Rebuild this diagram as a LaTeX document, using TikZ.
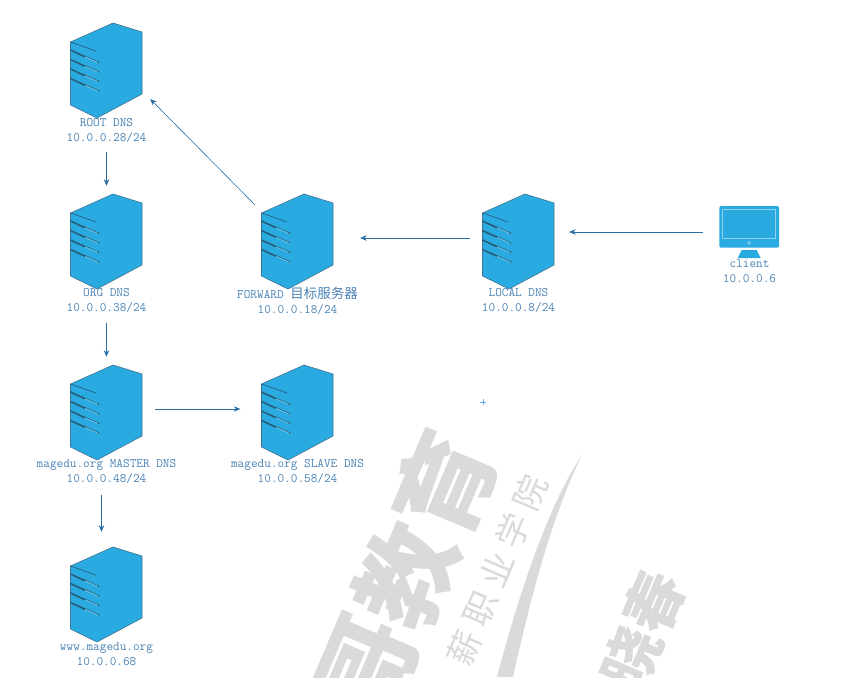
\documentclass[tikz,border=0pt]{standalone}
\usepackage{fontspec}
\newfontfamily\cjk{Noto Sans CJK SC}
\newfontfamily\cjkwide[LetterSpace=24]{Noto Sans CJK SC}
\usetikzlibrary{arrows.meta}
\definecolor{srvblue}{HTML}{29ABE2}
\definecolor{srvedge}{HTML}{3F7391}
\definecolor{slatdark}{HTML}{27566E}
\definecolor{slatpale}{HTML}{8FD0EE}
\definecolor{slatmid}{HTML}{62BCE4}
\definecolor{lblblue}{HTML}{4A82B3}
\definecolor{linkblue}{HTML}{2B6EA3}
\definecolor{wmgray}{HTML}{DADADA}
\definecolor{plusblue}{HTML}{6AA5E8}
\tikzset{
  x=1pt,y=-1pt,
  srvbox/.style={inner sep=0pt,minimum width=73pt,minimum height=95pt},
  lbl/.style={inner sep=0pt,align=center,text=lblblue,font=\fontsize{12.9}{15}\selectfont\ttfamily},
  link/.style={draw=linkblue,line width=0.6pt,-{Stealth[length=6.5pt,width=5.5pt]}},
  wm/.style={inner sep=0pt,text=wmgray,rotate=67},
  pics/server/.style={code={
    \fill[srvblue] (-36,-28.5) -- (6.5,-47.5) -- (35.5,-38.5) -- (35.5,23.5) -- (-9.5,47.5) -- (-36,34.5) -- cycle;
    \draw[srvedge,line width=0.6pt,line join=round] (-36,-28.5) -- (6.5,-47.5) -- (35.5,-38.5) -- (35.5,23.5) -- (-9.5,47.5) -- (-36,34.5) -- cycle;
    \draw[slatdark,line width=0.6pt] (-36,-28.5) -- (-10.5,-19.5);
    \foreach \k in {0,9.5,19,28.5}{
      \draw[slatmid,line width=1.4pt] (-21.5,{-13.8+\k}) -- (-8,{-7.8+\k});
      \draw[slatdark,line width=0.45pt] (-21.5,{-14.6+\k}) -- (-8,{-8.6+\k});
      \draw[slatdark,line width=1.6pt,dash pattern=on 1.4pt off 0.4pt] (-36,{-20.5+\k}) -- (-21.5,{-13.8+\k});
      \fill[slatdark] (-8,{-8.2+\k}) circle (0.9pt);
    }
  }}
}
\begin{document}
\begin{tikzpicture}
\useasboundingbox (0,0) rectangle (850,677);
\begin{scope}
\clip (0,0) rectangle (850,677);
\node[wm,font=\fontsize{100}{100}\selectfont\cjk\bfseries] (wmA) at (405,575) {哥教育};
\node[wm,font=\fontsize{34}{34}\selectfont\cjkwide] (wmB) at (497,570) {薪职业学院};
\node[wm,font=\fontsize{60}{60}\selectfont\cjk\bfseries] (wmC) at (643,630) {晓春};
\fill[wmgray] (582,455) .. controls (555,495) and (525,570) .. (497,677) -- (513,677) .. controls (530,600) and (552,515) .. cycle;
\end{scope}
% servers
\node[srvbox] (root) at (106.5,70.5) {};
\node[srvbox] (org) at (106.5,241.5) {};
\node[srvbox] (master) at (106.5,412.5) {};
\node[srvbox] (www) at (106.5,594.5) {};
\node[srvbox] (forward) at (297.5,241.5) {};
\node[srvbox] (slave) at (297.5,412.5) {};
\node[srvbox] (local) at (518.5,241.5) {};
\foreach \n in {root,org,master,www,forward,slave,local}{ \pic at (\n.center) {server}; }
% client monitor
\node[inner sep=0pt,minimum width=60pt,minimum height=52pt] (client) at (749,232) {};
\fill[srvblue,rounded corners=2pt] (719.3,206) rectangle (779,247.7);
\draw[slatpale,line width=0.7pt] (722.7,209.3) rectangle (775.7,238.3);
\draw[slatpale,line width=0.6pt] (749,243) circle (1.6pt);
\fill[srvblue] (741.7,250) -- (756.7,250) -- (760.7,258) -- (737.7,258) -- cycle;
% labels
\node[lbl] (rootl) at (106.5,130.5) {ROOT DNS\\10.0.0.28/24};
\node[lbl] (orgl) at (106.5,300.5) {ORG DNS\\10.0.0.38/24};
\node[lbl] (masterl) at (106.5,471.5) {magedu.org MASTER DNS\\10.0.0.48/24};
\node[lbl] (wwwl) at (106.5,654.5) {www.magedu.org\\10.0.0.68};
\node[lbl] (forwardl) at (297.5,300.5) {FORWARD {\fontsize{13.5}{15}\selectfont\cjk 目标服务器}\\10.0.0.18/24};
\node[lbl] (slavel) at (297.5,471.5) {magedu.org SLAVE DNS\\10.0.0.58/24};
\node[lbl] (locall) at (518.5,300.5) {LOCAL DNS\\10.0.0.8/24};
\node[lbl] (clientl) at (749.5,271.5) {client\\10.0.0.6};
% connectors
\draw[link,shorten <=34pt,shorten >=8pt] (root.south) -- (org.north);
\draw[link,shorten <=34pt,shorten >=8pt] (org.south) -- (master.north);
\draw[link,shorten <=11pt,shorten >=15pt] ([xshift=-5pt]masterl.south) -- ([xshift=-5pt]www.north);
\draw[link,shorten <=12pt,shorten >=20.5pt] ([yshift=3.5pt]master.east) -- ([yshift=3.5pt]slave.west);
\draw[link,shorten <=12pt,shorten >=26pt] ([yshift=3.5pt]local.west) -- ([yshift=3.5pt]forward.east);
\draw[link,shorten <=16pt,shorten >=14pt] (client.west) -- (local.east |- client.west);
\draw[link,shorten <=6.5pt] ([shift={(-1,16)}]forward.north west) -- ([shift={(7,28.5)}]root.east);
% stray plus mark
\draw[plusblue,line width=0.5pt] (480,402) -- (486,402) (483,399) -- (483,405);
\end{tikzpicture}
\end{document}
